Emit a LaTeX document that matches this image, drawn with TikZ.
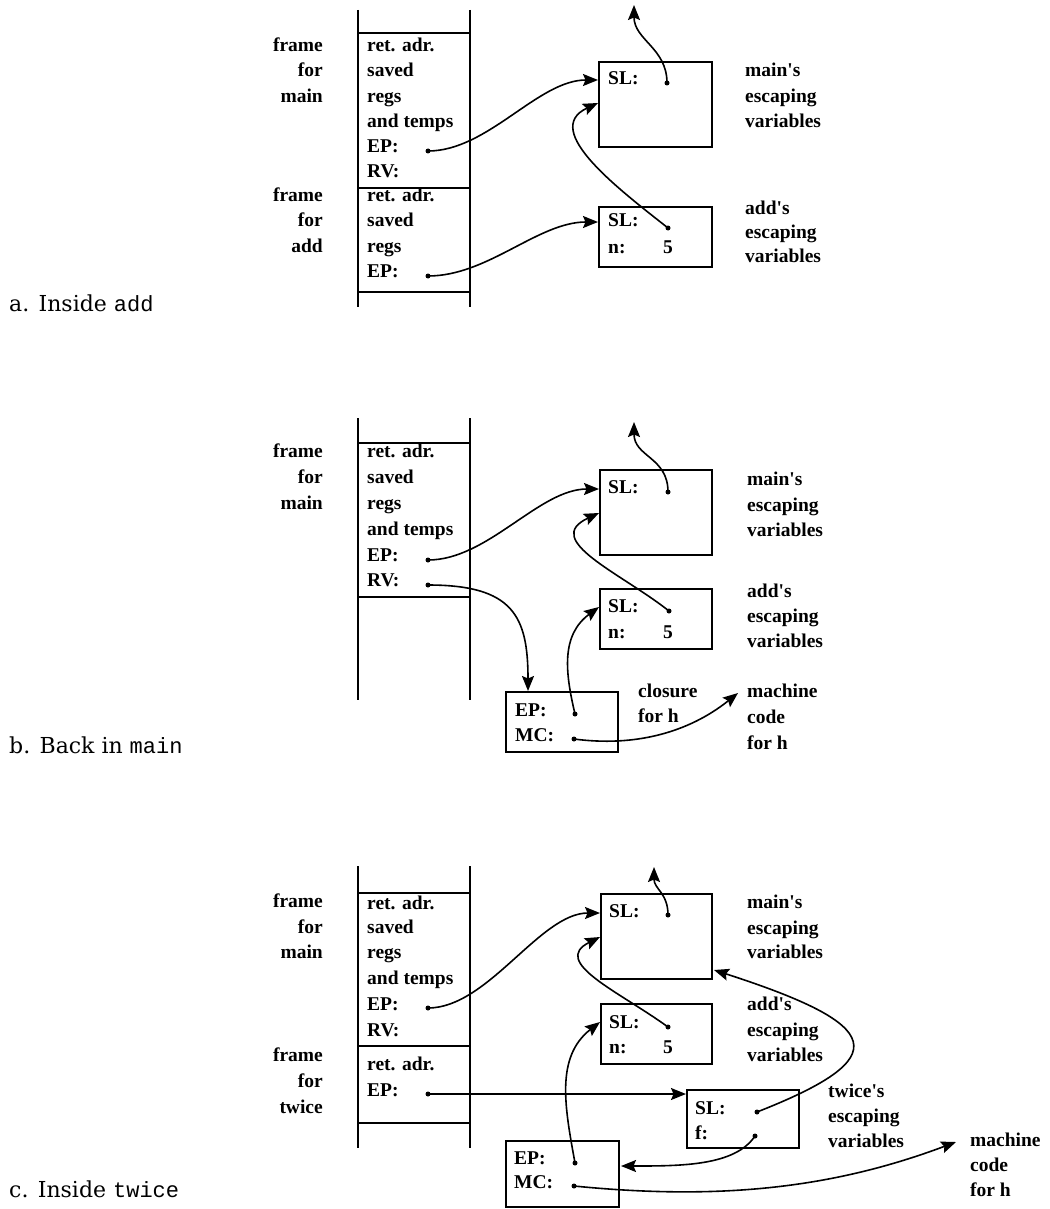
\documentclass[tikz,border=0pt]{standalone}
\usepackage{fontspec}
\setmainfont{Liberation Serif}
\newfontfamily\capfont{DejaVu Serif}
\newfontfamily\capmono{Liberation Mono}
\usetikzlibrary{arrows.meta}
\newcommand{\aps}{\textquotesingle}
\begin{document}
\begin{tikzpicture}[x=1pt,y=-1pt,
 txt/.style={font=\fontsize{19.5}{24}\selectfont\bfseries, inner sep=0pt, text height=13pt, text depth=4pt, anchor=west},
 lbl/.style={txt, anchor=east},
 ctr/.style={txt, anchor=center},
 box/.style={draw, line width=1.8pt, anchor=north west, inner sep=0pt},
 stackline/.style={line width=2pt},
 ptr/.style={line width=1.6pt, -{Stealth[length=15pt,width=12pt,inset=2.5pt]}},
 captxt/.style={font=\fontsize{22}{26}\capfont, anchor=west, inner sep=0pt},
 dotfill/.style={fill=black}
]
\useasboundingbox (0,0) rectangle (1049,1209);

%%%%%%%%%%%%%%%%%%%% PANEL A %%%%%%%%%%%%%%%%%%%%
\draw[stackline] (358,10) -- (358,307) (470,10) -- (470,307);
\draw[stackline] (358,33) -- (470,33) (358,188) -- (470,188) (358,292) -- (470,292);
\node[txt] (aR1) at (367,47) {ret. adr.};
\node[txt] (aR2) at (367,72) {saved};
\node[txt] (aR3) at (367,98) {regs};
\node[txt] (aR4) at (367,123) {and temps};
\node[txt] (aEP) at (367,148) {EP:};
\node[txt] (aRV) at (367,173) {RV:};
\node[txt] (aR7) at (367,197) {ret. adr.};
\node[txt] (aR8) at (367,222) {saved};
\node[txt] (aR9) at (367,248) {regs};
\node[txt] (aEP2) at (367,273) {EP:};
\node[lbl] (aL1) at (323,47) {frame};
\node[lbl] (aL2) at (323,72) {for};
\node[lbl] (aL3) at (323,98) {main};
\node[lbl] (aL4) at (323,197) {frame};
\node[lbl] (aL5) at (323,222) {for};
\node[lbl] (aL6) at (323,248) {add};

\node[box, minimum width=113pt, minimum height=85pt] (aMain) at (598,61) {};
\node[txt] (aMainSL) at (608,80) {SL:};
\node[box, minimum width=113pt, minimum height=60pt] (aAdd) at (598,206) {};
\node[txt] (aAddSL) at (608,222) {SL:};
\node[txt] (aAddN) at (608,249) {n:};
\node[ctr] (aAdd5) at (668,249) {5};

\node[txt] (aM1) at (745,72) {main\aps s};
\node[txt] (aM2) at (745,98) {escaping};
\node[txt] (aM3) at (745,123) {variables};
\node[txt] (aA1) at (745,210) {add\aps s};
\node[txt] (aA2) at (745,234) {escaping};
\node[txt] (aA3) at (745,258) {variables};

\coordinate (aEPd) at (428,151);
\coordinate (aEP2d) at (428,276);
\coordinate (aMainSLd) at (667,83);
\coordinate (aAddSLd) at (668,228);
\coordinate (aUp) at (634,5);
\coordinate (aMainIn) at (598,103);
\foreach \d in {aEPd,aEP2d,aMainSLd,aAddSLd} \fill[dotfill] (\d) circle (2.5pt);

\draw[ptr] (aEPd) .. controls +(60,0) and +(-60,0) .. (aMain.west |- aMainSL);
\draw[ptr] (aEP2d) .. controls +(60,0) and +(-60,0) .. (aAdd.west |- aAddSL);
\draw[ptr] (aMainSLd) .. controls +(0,-35) and +(0,35) .. (aUp);
\draw[ptr] (aAddSLd) .. controls +(-48,-38) and +(-58,27) .. (aMainIn);

\node[captxt] (capA) at (9,303) {a. Inside {\capmono add}};

%%%%%%%%%%%%%%%%%%%% PANEL B %%%%%%%%%%%%%%%%%%%%
\draw[stackline] (358,418) -- (358,700) (470,418) -- (470,700);
\draw[stackline] (358,443) -- (470,443) (358,597) -- (470,597);
\node[txt] (bR1) at (367,453) {ret. adr.};
\node[txt] (bR2) at (367,479) {saved};
\node[txt] (bR3) at (367,505) {regs};
\node[txt] (bR4) at (367,531) {and temps};
\node[txt] (bEP) at (367,557) {EP:};
\node[txt] (bRV) at (367,582) {RV:};
\node[lbl] (bL1) at (323,453) {frame};
\node[lbl] (bL2) at (323,479) {for};
\node[lbl] (bL3) at (323,505) {main};

\node[box, minimum width=112pt, minimum height=85pt] (bMain) at (599,469) {};
\node[txt] (bMainSL) at (608,489) {SL:};
\node[box, minimum width=112pt, minimum height=60pt] (bAdd) at (599,588) {};
\node[txt] (bAddSL) at (608,608) {SL:};
\node[txt] (bAddN) at (608,634) {n:};
\node[ctr] (bAdd5) at (668,634) {5};
\node[box, minimum width=112pt, minimum height=60pt] (bClos) at (505,691) {};
\node[txt] (bClEP) at (515,712) {EP:};
\node[txt] (bClMC) at (515,737) {MC:};

\node[txt] (bM1) at (747,481) {main\aps s};
\node[txt] (bM2) at (747,507) {escaping};
\node[txt] (bM3) at (747,532) {variables};
\node[txt] (bA1) at (747,593) {add\aps s};
\node[txt] (bA2) at (747,618) {escaping};
\node[txt] (bA3) at (747,643) {variables};
\node[txt] (bC1) at (638,693) {closure};
\node[txt] (bC2) at (638,718) {for h};
\node[txt] (bMach) at (747,693) {machine};
\node[txt] (bCode) at (747,719) {code};
\node[txt] (bForh) at (747,745) {for h};

\coordinate (bEPd) at (428,560);
\coordinate (bRVd) at (428,585);
\coordinate (bMainSLd) at (668,492);
\coordinate (bAddSLd) at (669,611);
\coordinate (bClEPd) at (575,714);
\coordinate (bClMCd) at (574,739);
\coordinate (bUp) at (634,422);
\coordinate (bMainIn) at (599,513);
\coordinate (bAddIn) at (599,607);
\coordinate (bClIn) at (528,691);
\foreach \d in {bEPd,bRVd,bMainSLd,bAddSLd,bClEPd,bClMCd} \fill[dotfill] (\d) circle (2.5pt);

\draw[ptr] (bEPd) .. controls +(60,0) and +(-60,0) .. (bMain.west |- bMainSL);
\draw[ptr] (bMainSLd) .. controls +(0,-35) and +(0,35) .. (bUp);
\draw[ptr] (bAddSLd) .. controls +(-48,-38) and +(-58,27) .. (bMainIn);
\draw[ptr] (bRVd) .. controls +(85,0) and +(0,-75) .. (bClIn);
\draw[ptr] (bClEPd) .. controls +(-10,-42) and +(-38,28) .. (bAddIn);
\draw[ptr] (bClMCd) .. controls +(60,8) and +(-50,40) .. ([xshift=-9pt]bMach.west);

\node[captxt] (capB) at (9,745) {b. Back in {\capmono main}};

%%%%%%%%%%%%%%%%%%%% PANEL C %%%%%%%%%%%%%%%%%%%%
\draw[stackline] (358,866) -- (358,1148) (470,866) -- (470,1148);
\draw[stackline] (358,893) -- (470,893) (358,1046) -- (470,1046) (358,1123) -- (470,1123);
\node[txt] (cR1) at (367,905) {ret. adr.};
\node[txt] (cR2) at (367,929) {saved};
\node[txt] (cR3) at (367,954) {regs};
\node[txt] (cR4) at (367,980) {and temps};
\node[txt] (cEP) at (367,1006) {EP:};
\node[txt] (cRV) at (367,1032) {RV:};
\node[txt] (cR7) at (367,1066) {ret. adr.};
\node[txt] (cEP2) at (367,1092) {EP:};
\node[lbl] (cL1) at (323,903) {frame};
\node[lbl] (cL2) at (323,929) {for};
\node[lbl] (cL3) at (323,954) {main};
\node[lbl] (cL4) at (323,1057) {frame};
\node[lbl] (cL5) at (323,1083) {for};
\node[lbl] (cL6) at (323,1109) {twice};

\node[box, minimum width=111pt, minimum height=85pt] (cMain) at (600,893) {};
\node[txt] (cMainSL) at (609,913) {SL:};
\node[box, minimum width=111pt, minimum height=60pt] (cAdd) at (600,1003) {};
\node[txt] (cAddSL) at (609,1024) {SL:};
\node[txt] (cAddN) at (609,1049) {n:};
\node[ctr] (cAdd5) at (668,1049) {5};
\node[box, minimum width=112pt, minimum height=58pt] (cTw) at (686,1089) {};
\node[txt] (cTwSL) at (695,1110) {SL:};
\node[txt] (cTwF) at (695,1135) {f:};
\node[box, minimum width=113pt, minimum height=66pt] (cClos) at (505,1140) {};
\node[txt] (cClEP) at (514,1160) {EP:};
\node[txt] (cClMC) at (514,1184) {MC:};

\node[txt] (cM1) at (747,904) {main\aps s};
\node[txt] (cM2) at (747,930) {escaping};
\node[txt] (cM3) at (747,954) {variables};
\node[txt] (cA1) at (747,1006) {add\aps s};
\node[txt] (cA2) at (747,1032) {escaping};
\node[txt] (cA3) at (747,1057) {variables};
\node[txt] (cT1) at (828,1093) {twice\aps s};
\node[txt] (cT2) at (828,1118) {escaping};
\node[txt] (cT3) at (828,1143) {variables};
\node[txt] (cMach) at (970,1142) {machine};
\node[txt] (cCode) at (970,1167) {code};
\node[txt] (cForh) at (970,1192) {for h};

\coordinate (cEPd) at (428,1008);
\coordinate (cEP2d) at (428,1094);
\coordinate (cMainSLd) at (668,915);
\coordinate (cAddSLd) at (668,1027);
\coordinate (cTwSLd) at (757,1112);
\coordinate (cTwFd) at (755,1136);
\coordinate (cClEPd) at (575,1163);
\coordinate (cClMCd) at (574,1186);
\coordinate (cUp) at (654,867);
\coordinate (cMainIn) at (600,937);
\coordinate (cMainIn2) at (714,970);
\coordinate (cAddIn) at (600,1022);
\coordinate (cClIn) at (621,1166);
\foreach \d in {cEPd,cEP2d,cMainSLd,cAddSLd,cTwSLd,cTwFd,cClEPd,cClMCd} \fill[dotfill] (\d) circle (2.5pt);

\draw[ptr] (cEPd) .. controls +(60,0) and +(-60,0) .. (cMain.west |- cMainSL);
\draw[ptr] (cMainSLd) .. controls +(0,-22) and +(0,22) .. (cUp);
\draw[ptr] (cAddSLd) .. controls +(-48,-35) and +(-50,25) .. (cMainIn);
\draw[ptr] (cEP2d) -- (cEP2d -| cTw.west);
\draw[ptr] (cTwSLd) .. controls +(140,-55) and +(170,55) .. (cMainIn2);
\draw[ptr] (cTwFd) .. controls +(-20,30) and +(60,0) .. (cClIn);
\draw[ptr] (cClEPd) .. controls +(-10,-55) and +(-45,35) .. (cAddIn);
\draw[ptr] (cClMCd) .. controls +(150,15) and +(-120,45) .. ([xshift=-14pt]cMach.west);

\node[captxt] (capC) at (9,1189) {c. Inside {\capmono twice}};
\end{tikzpicture}
\end{document}
